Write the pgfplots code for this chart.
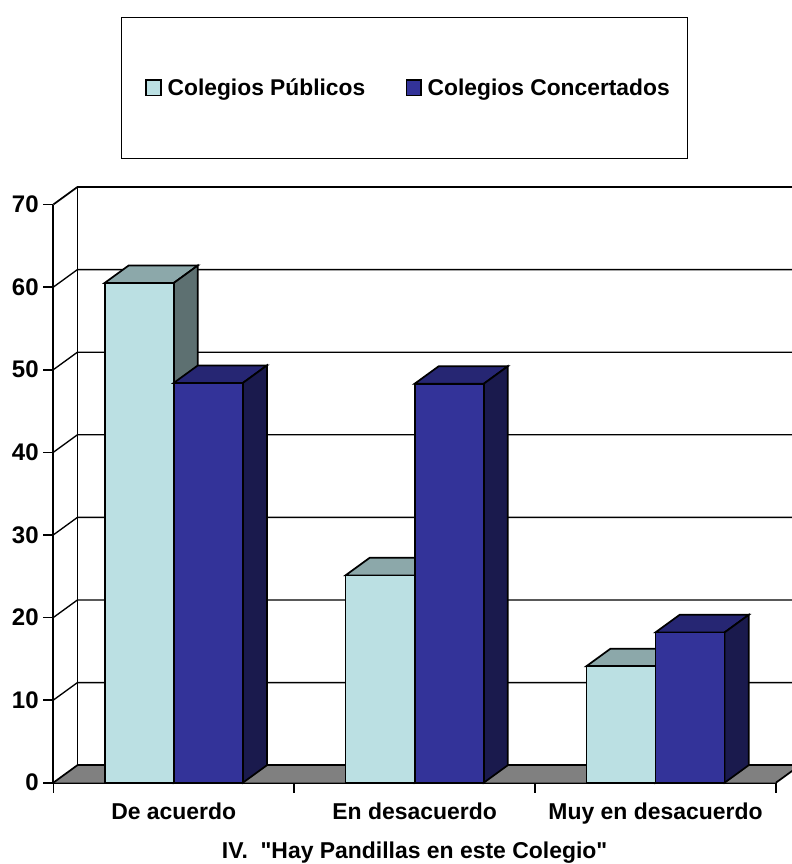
\documentclass[border=0pt]{standalone}
\usepackage{fontspec}
\setmainfont{Liberation Sans}[Ligatures=TeXOff]
\usepackage{pgfplots}
\pgfplotsset{compat=1.18}
\definecolor{pubfront}{HTML}{BBE0E3}
\definecolor{pubtop}{HTML}{8CA8AA}
\definecolor{pubside}{HTML}{5D7071}
\definecolor{conFront}{HTML}{333399}
\definecolor{contop}{HTML}{262673}
\definecolor{conside}{HTML}{1A1A4D}
\definecolor{floorgray}{HTML}{808080}
\pgfplotsset{
  face/.style={draw=black, line width=1.3pt, line join=miter, forget plot},
  wall/.style={draw=black, line width=1.3pt, forget plot},
  grid line/.style={draw=black, line width=1pt, forget plot},
}
\begin{document}
\begin{tikzpicture}
\useasboundingbox (-40pt,-60.975pt) rectangle (554pt,587.025pt);
\begin{axis}[
    at={(0pt,0pt)}, anchor=origin,
    scale only axis,
    width=541.95pt,
    height=433.65pt,
    xmin=0, xmax=3,
    ymin=0, ymax=70,
    clip=false,
    axis x line*=bottom,
    axis y line*=left,
    axis line style={line width=1.3pt},
    xtick={0,1,2,3},
    x tick label as interval,
    xticklabels={De acuerdo,En desacuerdo,Muy en desacuerdo},
    ytick={0,10,20,30,40,50,60,70},
    tick align=outside,
    major tick length=7.5pt,
    tick style={black, line width=1.2pt},
    /pgf/number format/assume math mode=true,
    tick label style={font=\fontsize{17.2}{20}\selectfont\bfseries},
    yticklabel style={font=\fontsize{18}{20}\selectfont\bfseries},
    xticklabel style={yshift=-4pt},
    label style={font=\fontsize{17.2}{20}\selectfont\bfseries},
    xlabel={IV.\ \ "Hay Pandillas en este Colegio"},
    xlabel style={yshift=-6.5pt},
    legend columns=2,
    legend cell align=left,
    legend style={
        at={(axis cs:1.4577,84.1)}, anchor=center,
        draw=black, line width=1.1pt,
        font=\fontsize{17.1}{20}\selectfont\bfseries,
        inner xsep=14.3pt, inner ysep=44pt,
        /tikz/every even column/.append style={column sep=24.5pt},
    },
    legend image code/.code={
        \draw[#1, line width=1.2pt] (0pt,-5.5pt) rectangle (11pt,6pt);
        \path (-3.75pt,0pt) (13.5pt,0pt);
    },
]
\addlegendimage{fill=pubfront, draw=black}
\addlegendentry{Colegios Públicos}
\addlegendimage{fill=conFront, draw=black}
\addlegendentry{Colegios Concertados\kern-3pt\relax}

% walls and grid
\addplot[wall] coordinates {(0.1,2.12) (0.1,72.12) (3.069,72.12)};
\addplot[wall] coordinates {(0,70) (0.1,72.12)};
\addplot[grid line] coordinates {(0,10) (0.1,12.12) (3.069,12.12)};
\addplot[grid line] coordinates {(0,20) (0.1,22.12) (3.069,22.12)};
\addplot[grid line] coordinates {(0,30) (0.1,32.12) (3.069,32.12)};
\addplot[grid line] coordinates {(0,40) (0.1,42.12) (3.069,42.12)};
\addplot[grid line] coordinates {(0,50) (0.1,52.12) (3.069,52.12)};
\addplot[grid line] coordinates {(0,60) (0.1,62.12) (3.069,62.12)};
% floor
\addplot[fill=floorgray, draw=none, forget plot] coordinates {(0,0) (3,0) (3.069,1.46) (3.069,2.12) (0.1,2.12)} --cycle;
\addplot[draw=black, line width=1.8pt, forget plot] coordinates {(0.1,2.12) (3.069,2.12)};
\addplot[wall] coordinates {(0,0) (0.1,2.12)};
\addplot[wall] coordinates {(3,0) (3.069,1.46)};

% De acuerdo
\addplot[face, fill=pubtop] coordinates {(0.213,60.5) (0.5,60.5) (0.6,62.62) (0.313,62.62)} --cycle;
\addplot[face, fill=pubside] coordinates {(0.5,0) (0.5,60.5) (0.6,62.62) (0.6,2.12)} --cycle;
\addplot[face, ybar, bar width=0.287, bar shift=-0.1435, fill=pubfront] coordinates {(0.5,60.5)};
\addplot[face, fill=contop] coordinates {(0.5,48.4) (0.787,48.4) (0.887,50.52) (0.6,50.52)} --cycle;
\addplot[face, fill=conside] coordinates {(0.787,0) (0.787,48.4) (0.887,50.52) (0.887,2.12)} --cycle;
\addplot[face, ybar, bar width=0.287, bar shift=0.1435, fill=conFront] coordinates {(0.5,48.4)};

% En desacuerdo
\addplot[face, fill=pubtop] coordinates {(1.213,25.1) (1.5,25.1) (1.6,27.22) (1.313,27.22)} --cycle;
\addplot[face, fill=pubside] coordinates {(1.5,0) (1.5,25.1) (1.6,27.22) (1.6,2.12)} --cycle;
\addplot[face, ybar, bar width=0.287, bar shift=-0.1435, fill=pubfront] coordinates {(1.5,25.1)};
\addplot[face, fill=contop] coordinates {(1.5,48.3) (1.787,48.3) (1.887,50.42) (1.6,50.42)} --cycle;
\addplot[face, fill=conside] coordinates {(1.787,0) (1.787,48.3) (1.887,50.42) (1.887,2.12)} --cycle;
\addplot[face, ybar, bar width=0.287, bar shift=0.1435, fill=conFront] coordinates {(1.5,48.3)};

% Muy en desacuerdo
\addplot[face, fill=pubtop] coordinates {(2.213,14.1) (2.5,14.1) (2.6,16.22) (2.313,16.22)} --cycle;
\addplot[face, fill=pubside] coordinates {(2.5,0) (2.5,14.1) (2.6,16.22) (2.6,2.12)} --cycle;
\addplot[face, ybar, bar width=0.287, bar shift=-0.1435, fill=pubfront] coordinates {(2.5,14.1)};
\addplot[face, fill=contop] coordinates {(2.5,18.2) (2.787,18.2) (2.887,20.32) (2.6,20.32)} --cycle;
\addplot[face, fill=conside] coordinates {(2.787,0) (2.787,18.2) (2.887,20.32) (2.887,2.12)} --cycle;
\addplot[face, ybar, bar width=0.287, bar shift=0.1435, fill=conFront] coordinates {(2.5,18.2)};
\end{axis}
\end{tikzpicture}
\end{document}
